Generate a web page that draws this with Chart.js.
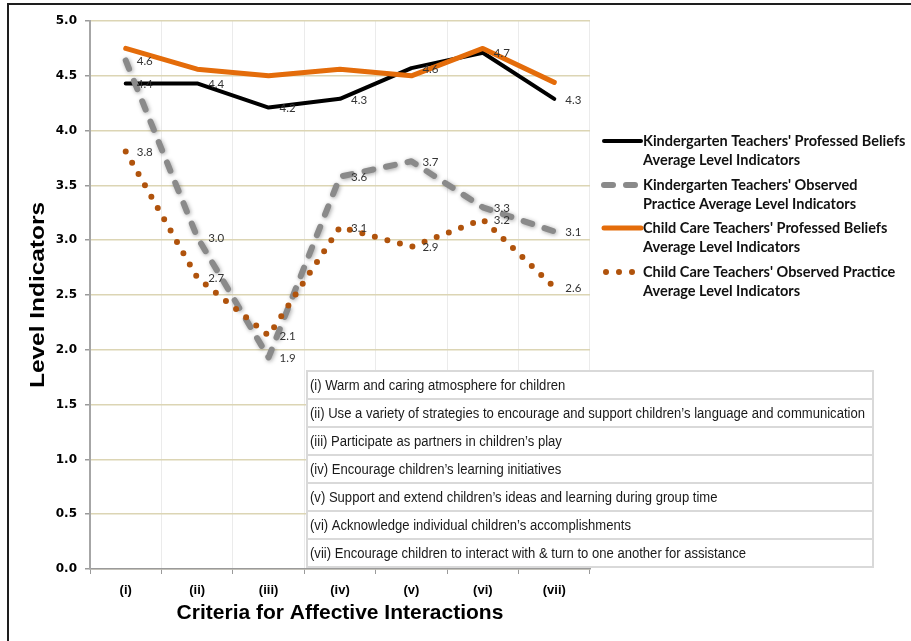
<!DOCTYPE html>
<html>
<head>
<meta charset="utf-8">
<script src="https://cdn.jsdelivr.net/npm/chart.js@4.4.1/dist/chart.umd.min.js"></script>
<style>
  body { margin: 0; background: #fff; }
</style>
</head>
<body>
<canvas id="affectChart" width="911" height="641"></canvas>
<script>
// categories + descriptions for the key table
const criteria = ['(i)', '(ii)', '(iii)', '(iv)', '(v)', '(vi)', '(vii)'];
const criteriaText = [
    '(i) Warm and caring atmosphere for children',
    '(ii) Use a variety of strategies to encourage and support children\u2019s language and communication',
    '(iii) Participate as partners in children\u2019s play',
    '(iv) Encourage children\u2019s learning initiatives',
    '(v) Support and extend children\u2019s ideas and learning during group time',
    '(vi) Acknowledge individual children\u2019s accomplishments',
    '(vii) Encourage children to interact with & turn to one another for assistance'
];

// series values
const kgBeliefs  = [4.43, 4.43, 4.21, 4.29, 4.57, 4.71, 4.29];
const kgPractice = [4.64, 3.03, 1.93, 3.58, 3.72, 3.30, 3.08];
const ccBeliefs  = [4.75, 4.56, 4.50, 4.56, 4.50, 4.75, 4.44];
const ccPractice = [3.81, 2.66, 2.13, 3.12, 2.94, 3.19, 2.57];

const seriesNames = [
    ["Kindergarten Teachers' Professed Beliefs", 'Average Level Indicators'],
    ["Kindergarten Teachers' Observed", 'Practice Average Level Indicators'],
    ["Child Care Teachers' Professed Beliefs", 'Average Level Indicators'],
    ["Child Care Teachers' Observed Practice", 'Average Level Indicators']
];

const yMin = 0, yMax = 5, yStep = 0.5;

// value labels to the right of points
const valueLabels = {
    id: 'valueLabels',
    afterDatasetsDraw(chart) {
        const ctx = chart.ctx;
        ctx.save();
        ctx.font = '11.5px Lato, "Noto Sans", sans-serif';
        ctx.fillStyle = '#333';
        ctx.textBaseline = 'middle';
        chart.data.datasets.forEach((ds, i) => {
            if (!ds.showValues) return;
            chart.getDatasetMeta(i).data.forEach((pt, j) => {
                ctx.fillText(ds.data[j].toFixed(1), pt.x + 11, pt.y + 1);
            });
        });
        ctx.restore();
    }
};

// soft shadow under the grey dashed line
const lineShadow = {
    id: 'lineShadow',
    beforeDatasetDraw(chart, args) {
        if (!chart.data.datasets[args.index].shadow) return;
        const ctx = chart.ctx;
        ctx.save();
        ctx.shadowColor = 'rgba(0,0,0,0.35)';
        ctx.shadowBlur = 4;
        ctx.shadowOffsetX = 1;
        ctx.shadowOffsetY = 1;
    },
    afterDatasetDraw(chart, args) {
        if (!chart.data.datasets[args.index].shadow) return;
        chart.ctx.restore();
    }
};

// frame, axis titles, legend and the criteria table
const extras = {
    id: 'extras',
    afterDraw(chart) {
        const ctx = chart.ctx;
        const area = chart.chartArea;
        ctx.save();

        // outer frame (runs off the right and bottom)
        ctx.strokeStyle = '#1e1e1e';
        ctx.lineWidth = 2;
        ctx.strokeRect(8, 4, 1000, 1000);

        // axis titles
        ctx.fillStyle = '#000';
        ctx.textAlign = 'center';
        ctx.textBaseline = 'middle';
        ctx.font = 'bold 21px "Liberation Sans", Arial, sans-serif';
        ctx.fillText('Criteria for Affective Interactions', (area.left + area.right) / 2, 613);

        ctx.save();
        ctx.translate(38, 295);
        ctx.rotate(-Math.PI / 2);
        ctx.font = 'bold 21px "Liberation Sans", Arial, sans-serif';
        const yt = 'Level Indicators';
        const sx = 186 / ctx.measureText(yt).width;
        ctx.scale(sx, 1);
        ctx.fillText(yt, 0, 0);
        ctx.restore();

        // legend
        const rows = [141, 185, 228, 272];
        ctx.textAlign = 'left';
        ctx.font = 'bold 14.5px Lato, "Noto Sans", sans-serif';
        chart.data.datasets.forEach((ds, i) => {
            const y = rows[i];
            ctx.save();
            ctx.strokeStyle = ds.borderColor;
            ctx.lineWidth = ds.borderWidth;
            ctx.lineCap = ds.borderCapStyle || 'butt';
            ctx.setLineDash(ds.borderDash || []);
            ctx.beginPath();
            ctx.moveTo(i === 3 ? 606 : 604, y);
            ctx.lineTo(641, y);
            ctx.stroke();
            ctx.restore();
            ctx.fillStyle = '#111';
            ctx.fillText(seriesNames[i][0], 643, y);
            ctx.fillText(seriesNames[i][1], 643, y + 19);
        });

        // criteria table (narrow face squeezed to fit like the original)
        const tx = 307, ty = 371, tw = 566, rh = 28;
        ctx.font = '14px "Liberation Sans", Arial, sans-serif';
        const widest = Math.max(...criteriaText.map(t => ctx.measureText(t).width));
        const squeeze = Math.min(1, 555 / widest);
        criteriaText.forEach((t, i) => {
            const y = ty + i * rh;
            ctx.fillStyle = '#fff';
            ctx.fillRect(tx, y, tw, rh);
            ctx.strokeStyle = '#d9d9d9';
            ctx.lineWidth = 2;
            ctx.strokeRect(tx, y, tw, rh);
            ctx.save();
            ctx.translate(tx + 3, y + rh / 2 + 1);
            ctx.scale(squeeze, 1);
            ctx.fillStyle = '#1a1a1a';
            ctx.fillText(t, 0, 0);
            ctx.restore();
        });

        ctx.restore();
    }
};

const ctx1 = document.getElementById('affectChart').getContext('2d');
const affectChart = new Chart(ctx1, {
    type: 'line',
    data: {
        labels: criteria,
        datasets: [{
            label: seriesNames[0].join(' '),
            data: kgBeliefs,
            borderColor: '#000000',
            borderWidth: 4,
            borderCapStyle: 'round',
            showValues: true,
            order: 4
        }, {
            label: seriesNames[1].join(' '),
            data: kgPractice,
            borderColor: '#8a8a8a',
            borderWidth: 6,
            borderDash: [9, 13],
            borderCapStyle: 'round',
            shadow: true,
            showValues: true,
            order: 3
        }, {
            label: seriesNames[2].join(' '),
            data: ccBeliefs,
            borderColor: '#e46c0a',
            borderWidth: 5,
            borderCapStyle: 'round',
            order: 2
        }, {
            label: seriesNames[3].join(' '),
            data: ccPractice,
            borderColor: '#b0530c',
            borderWidth: 6,
            borderDash: [0, 13],
            borderCapStyle: 'round',
            showValues: true,
            order: 1
        }]
    },
    options: {
        responsive: false,
        animation: false,
        events: [],
        elements: {
            point: { radius: 0 },
            line: { tension: 0, borderJoinStyle: 'round' }
        },
        layout: {
            padding: { left: 0, right: 321, top: 21, bottom: 0 }
        },
        plugins: {
            legend: { display: false },
            tooltip: { enabled: false }
        },
        scales: {
            x: {
                offset: true,
                afterFit(scale) { scale.height = 72; },
                grid: {
                    offset: true,
                    color: '#ebebeb',
                    tickColor: '#9a9a9a',
                    tickLength: 5
                },
                border: { color: '#9a9a9a', width: 1.5 },
                ticks: {
                    color: '#000',
                    padding: 9,
                    font: { family: '"Liberation Sans", Arial, sans-serif', size: 13, weight: 'bold' }
                }
            },
            y: {
                min: yMin,
                max: yMax,
                afterFit(scale) { scale.width = 90; },
                grid: {
                    color: '#dcd5b4',
                    lineWidth: 1.5,
                    tickColor: '#9a9a9a',
                    tickLength: 5
                },
                border: { color: '#a6a6a6', width: 2 },
                ticks: {
                    stepSize: yStep,
                    color: '#000',
                    padding: 8,
                    callback: v => v.toFixed(1),
                    font: { family: '"DejaVu Sans", Verdana, sans-serif', size: 12, weight: 'bold' }
                }
            }
        }
    },
    plugins: [lineShadow, valueLabels, extras]
});
</script>
</body>
</html>
